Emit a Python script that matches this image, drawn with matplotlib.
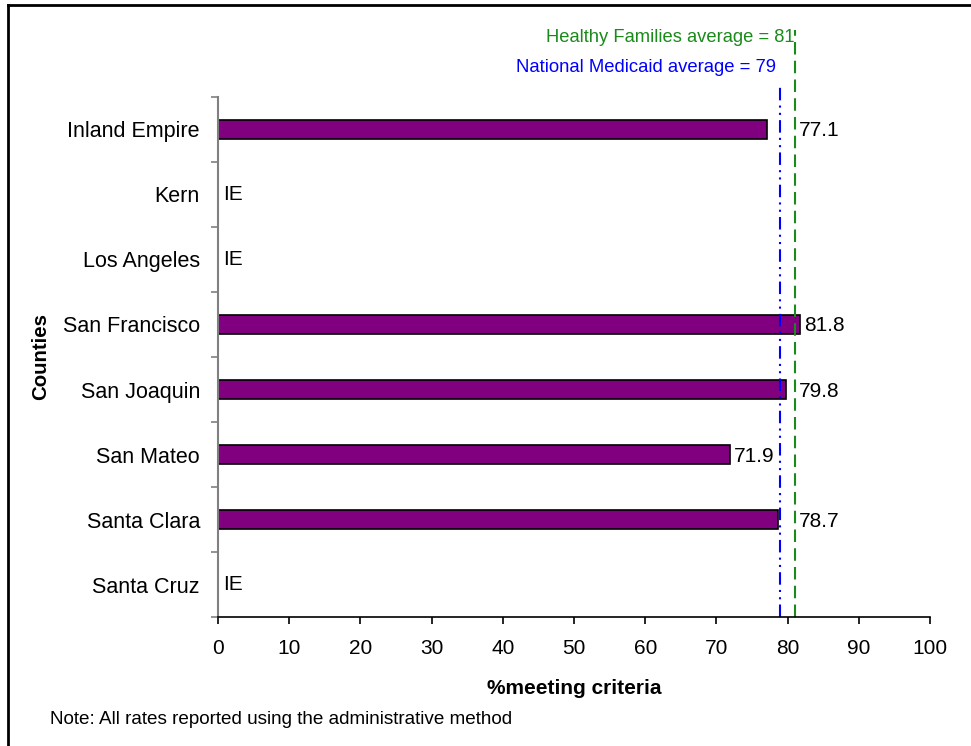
import matplotlib
matplotlib.use("Agg")
import matplotlib.pyplot as plt
from matplotlib.lines import Line2D
from matplotlib.transforms import offset_copy
import numpy as np

plt.rcParams['font.family'] = ['Liberation Sans', 'DejaVu Sans']

counties = ["Inland Empire", "Kern", "Los Angeles", "San Francisco",
            "San Joaquin", "San Mateo", "Santa Clara", "Santa Cruz"]
rates = [77.1, None, None, 81.8, 79.8, 71.9, 78.7, None]   # None = IE
hf_avg = 81
medicaid_avg = 79
x_ticks = [0, 10, 20, 30, 40, 50, 60, 70, 80, 90, 100]

fig = plt.figure(figsize=(9.71, 7.46), dpi=100)
ax = fig.add_axes([0.2245, 0.1729, 0.9578 - 0.2245, 0.870 - 0.1729])

n = len(counties)
ypos = np.arange(n)
vals = [v if v is not None else 0 for v in rates]
ax.barh(ypos, vals, height=0.28, color="#800080", edgecolor="black", linewidth=1.2)

ax.set_ylim(n - 0.5, -0.5)
ax.set_xlim(0, 100)

# reference averages, running above the plot area
ax.plot([hf_avg, hf_avg], [n - 0.5, -1.53], color="#1a8a1a", lw=1.5,
        linestyle=(0, (6, 3)), clip_on=False)
ax.plot([medicaid_avg, medicaid_avg], [n - 0.5, -0.69], color="#0000ff", lw=1.5,
        linestyle=(0, (6, 2.5, 1, 2.5, 1, 2.5)), clip_on=False)
ax.text(hf_avg, 1.115, f"Healthy Families average = {hf_avg}", color="#1a8a1a",
        fontsize=13.2, ha="right", va="center",
        transform=ax.get_xaxis_transform())
ax.text(medicaid_avg - 0.6, 1.056, f"National Medicaid average = {medicaid_avg}",
        color="#0000ff", fontsize=13.3, ha="right", va="center",
        transform=ax.get_xaxis_transform())

# value labels, pushed past the average lines when the bar ends near them
for y, v in zip(ypos, rates):
    if v is None:
        tr = offset_copy(ax.transData, fig=fig, x=5, y=0, units="dots")
        ax.text(0, y, "IE", fontsize=15, ha="left", va="center", transform=tr)
    else:
        xl = max(v, hf_avg) if v > medicaid_avg - 3 else v
        tr = offset_copy(ax.transData, fig=fig, x=4, y=-1.5, units="dots")
        ax.text(xl, y, f"{v}", fontsize=15, ha="left", va="center", transform=tr)

ax.set_yticks(ypos)
ax.set_yticklabels(counties, fontsize=15.5)
ax.set_yticks(np.arange(n + 1) - 0.5, minor=True)
ax.tick_params(axis="y", which="major", length=0, pad=13)
ax.tick_params(axis="y", which="minor", length=5, width=1.2, color="#808080",
               direction="out")
ax.set_xticks(x_ticks)
ax.set_xticklabels([str(t) for t in x_ticks], fontsize=15)
ax.tick_params(axis="x", length=5, width=1.2, direction="out", pad=11)

for s in ("top", "right"):
    ax.spines[s].set_visible(False)
ax.spines["left"].set_color("#808080")
ax.spines["left"].set_linewidth(1.5)
ax.spines["bottom"].set_color("black")
ax.spines["bottom"].set_linewidth(1.2)

ax.set_xlabel("%meeting criteria", fontsize=15, fontweight="bold", labelpad=15)
ax.set_ylabel("Counties", fontsize=14.7, fontweight="bold", labelpad=9)

fig.text(50 / 971, 1 - 720 / 746, "Note: All rates reported using the administrative method",
         fontsize=13.6, ha="left", va="center")

# frame around the chart
bx, by = 7.5 / 971, 1 - 4.5 / 746
fig.add_artist(Line2D([bx, bx], [0, by], color="black", lw=2, transform=fig.transFigure))
fig.add_artist(Line2D([bx, 1], [by, by], color="black", lw=2, transform=fig.transFigure))

fig.savefig("out.png", dpi=100)
